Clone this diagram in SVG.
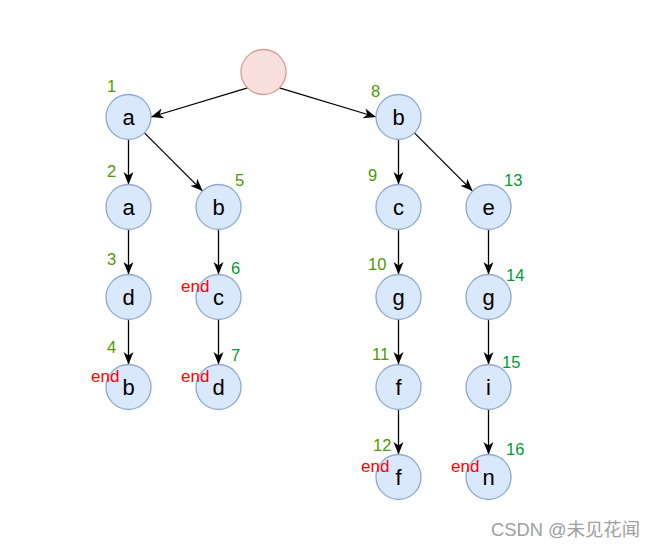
<svg xmlns="http://www.w3.org/2000/svg" width="655" height="548" viewBox="0 0 655 548">
<style>
.n{fill:#dae8fc;stroke:#8fa9d0;stroke-width:1.3}
.r{fill:#fadfdf;stroke:#d89a9a;stroke-width:1.3}
.t{font-family:"Liberation Sans",Arial,sans-serif;font-size:22px;fill:#000;text-anchor:middle}
.k{font-family:"Liberation Sans",Arial,sans-serif;font-size:16.5px;fill:#4d9900}
.k2{font-family:"Liberation Sans",Arial,sans-serif;font-size:16.5px;fill:#009933}
.e{font-family:"Liberation Sans",Arial,sans-serif;font-size:17px;fill:#ff0000}
.c{stroke:#000;stroke-width:1.3;fill:none;marker-end:url(#ah)}
</style>
<defs>
<marker id="ah" markerUnits="userSpaceOnUse" markerWidth="14" markerHeight="14" viewBox="0 0 14 14" refX="12.5" refY="7" orient="auto">
<path d="M0,2 L12.5,7 L0,12 L3.5,7 z" fill="#000"/>
</marker>
</defs>
<rect width="655" height="548" fill="#fff"/>
<g id="connectors">
<line class="c" x1="247.6" y1="87.9" x2="151" y2="117"/>
<line class="c" x1="279.4" y1="87.9" x2="376" y2="117"/>
<line class="c" x1="128.5" y1="139.5" x2="128.5" y2="184.5"/>
<line class="c" x1="144.4" y1="132.9" x2="202.6" y2="191.1"/>
<line class="c" x1="128.5" y1="229.5" x2="128.5" y2="274.5"/>
<line class="c" x1="128.5" y1="319.5" x2="128.5" y2="364.5"/>
<line class="c" x1="218.5" y1="229.5" x2="218.5" y2="274.5"/>
<line class="c" x1="218.5" y1="319.5" x2="218.5" y2="364.5"/>
<line class="c" x1="398.5" y1="139.5" x2="398.5" y2="184.5"/>
<line class="c" x1="414.4" y1="132.9" x2="472.6" y2="191.1"/>
<line class="c" x1="398.5" y1="229.5" x2="398.5" y2="274.5"/>
<line class="c" x1="398.5" y1="319.5" x2="398.5" y2="364.5"/>
<line class="c" x1="398.5" y1="409.5" x2="398.5" y2="454.5"/>
<line class="c" x1="488.5" y1="229.5" x2="488.5" y2="274.5"/>
<line class="c" x1="488.5" y1="319.5" x2="488.5" y2="364.5"/>
<line class="c" x1="488.5" y1="409.5" x2="488.5" y2="454.5"/>
</g>
<g id="root"><circle class="r" cx="263.5" cy="72" r="22.5"/></g>
<g id="n1"><circle class="n" cx="128.5" cy="117" r="22.5"/><text class="t" x="128.5" y="125">a</text><text class="k" x="107" y="92">1</text></g>
<g id="n2"><circle class="n" cx="128.5" cy="207" r="22.5"/><text class="t" x="128.5" y="215">a</text><text class="k" x="107" y="177">2</text></g>
<g id="n3"><circle class="n" cx="128.5" cy="297" r="22.5"/><text class="t" x="128.5" y="305">d</text><text class="k" x="107" y="265">3</text></g>
<g id="n4"><circle class="n" cx="128.5" cy="387" r="22.5"/><text class="t" x="128.5" y="395">b</text><text class="k" x="107" y="353">4</text><text class="e" x="91" y="382">end</text></g>
<g id="n5"><circle class="n" cx="218.5" cy="207" r="22.5"/><text class="t" x="218.5" y="215">b</text><text class="k" x="235" y="186">5</text></g>
<g id="n6"><circle class="n" cx="218.5" cy="297" r="22.5"/><text class="t" x="218.5" y="305">c</text><text class="k2" x="231" y="274">6</text><text class="e" x="181" y="292">end</text></g>
<g id="n7"><circle class="n" cx="218.5" cy="387" r="22.5"/><text class="t" x="218.5" y="395">d</text><text class="k2" x="231" y="361">7</text><text class="e" x="181" y="382">end</text></g>
<g id="n8"><circle class="n" cx="398.5" cy="117" r="22.5"/><text class="t" x="398.5" y="125">b</text><text class="k" x="371" y="97">8</text></g>
<g id="n9"><circle class="n" cx="398.5" cy="207" r="22.5"/><text class="t" x="398.5" y="215">c</text><text class="k" x="368" y="181">9</text></g>
<g id="n10"><circle class="n" cx="398.5" cy="297" r="22.5"/><text class="t" x="398.5" y="305">g</text><text class="k" x="368" y="270">10</text></g>
<g id="n11"><circle class="n" cx="398.5" cy="387" r="22.5"/><text class="t" x="398.5" y="395">f</text><text class="k" x="372" y="360">11</text></g>
<g id="n12"><circle class="n" cx="398.5" cy="477" r="22.5"/><text class="t" x="398.5" y="485">f</text><text class="k" x="373" y="451">12</text><text class="e" x="361" y="472">end</text></g>
<g id="n13"><circle class="n" cx="488.5" cy="207" r="22.5"/><text class="t" x="488.5" y="215">e</text><text class="k2" x="504" y="186">13</text></g>
<g id="n14"><circle class="n" cx="488.5" cy="297" r="22.5"/><text class="t" x="488.5" y="305">g</text><text class="k2" x="506" y="281">14</text></g>
<g id="n15"><circle class="n" cx="488.5" cy="387" r="22.5"/><text class="t" x="488.5" y="395">i</text><text class="k2" x="502" y="368">15</text></g>
<g id="n16"><circle class="n" cx="488.5" cy="477" r="22.5"/><text class="t" x="488.5" y="485">n</text><text class="k2" x="506" y="455">16</text><text class="e" x="451" y="472">end</text></g>
<text x="491" y="536" font-family="'Liberation Sans','Noto Sans CJK SC',sans-serif" font-size="18" fill="#a0a0a0" textLength="149" lengthAdjust="spacingAndGlyphs">CSDN @未见花闻</text>
</svg>
